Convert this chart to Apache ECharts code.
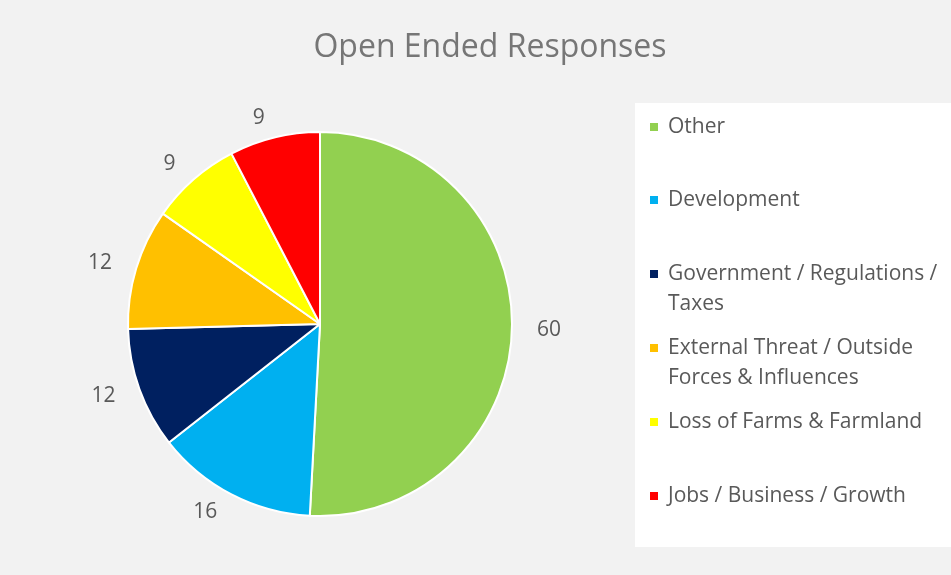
<!DOCTYPE html>
<html>
<head>
<meta charset="utf-8">
<script src="https://cdn.jsdelivr.net/npm/echarts@6/dist/echarts.min.js"></script>
<style>
  html, body { margin: 0; padding: 0; background: #ffffff; }
  #chart { width: 951px; height: 575px; }
</style>
</head>
<body>
<div id="chart"></div>
<script>
// 数据
var categories = ['Other', 'Development', 'Government / Regulations / Taxes',
  'External Threat / Outside Forces & Influences', 'Loss of Farms & Farmland', 'Jobs / Business / Growth'];
var values = [60, 16, 12, 12, 9, 9];
// legend text as shown (wrapped)
var legendLabels = ['Other', 'Development', 'Government / Regulations /\nTaxes',
  'External Threat / Outside\nForces & Influences', 'Loss of Farms & Farmland', 'Jobs / Business / Growth'];
var colors = ['#92d050', '#00b0f0', '#002060', '#ffc000', '#ffff00', '#ff0000'];

var FONT = '"Open Sans"';
var legendCenters = [127, 200, 274, 348, 422, 496];

var pieData = categories.map(function (name, i) {
  return { name: name, value: values[i], itemStyle: { color: colors[i] } };
});

// one legend per item so the rows sit where the reference has them;
// two-line items get an empty first line so the marker lines up with line one
var legends = categories.map(function (name, i) {
  var twoLines = legendLabels[i].indexOf('\n') >= 0;
  return {
    orient: 'vertical',
    left: 648,
    top: legendCenters[i] - (twoLines ? 45 : 15),
    padding: 0,
    icon: 'rect',
    itemWidth: 10,
    itemHeight: 10,
    selectedMode: false,
    data: [name],
    formatter: function () { return (twoLines ? ' \n' : '') + legendLabels[i]; },
    textStyle: {
      color: '#595959',
      fontFamily: FONT,
      fontSize: 21,
      lineHeight: 30,
      padding: [0, 0, 0, 4]
    }
  };
});

var option = {
  backgroundColor: '#f2f2f2',
  animation: false,
  title: {
    text: 'Open Ended Responses',
    left: 485,
    textAlign: 'center',
    top: 27,
    textStyle: { color: '#767676', fontFamily: FONT, fontSize: 32, fontWeight: 'normal' }
  },
  graphic: [{
    type: 'rect',
    shape: { x: 635, y: 103, width: 316, height: 444 },
    style: { fill: '#ffffff' },
    z: -1
  }],
  legend: legends,
  series: [{
    type: 'pie',
    center: [320, 324],
    radius: 192,
    startAngle: 90,
    clockwise: true,
    silent: true,
    itemStyle: { borderColor: '#ffffff', borderWidth: 2 },
    label: {
      show: true,
      position: 'outside',
      formatter: '{c}',
      color: '#595959',
      fontFamily: FONT,
      fontSize: 21
    },
    labelLine: { show: false, length: 20, length2: 0 },
    emphasis: { disabled: true },
    data: pieData
  }]
};

var myChart = echarts.init(document.getElementById('chart'));
myChart.setOption(option);
</script>
</body>
</html>
